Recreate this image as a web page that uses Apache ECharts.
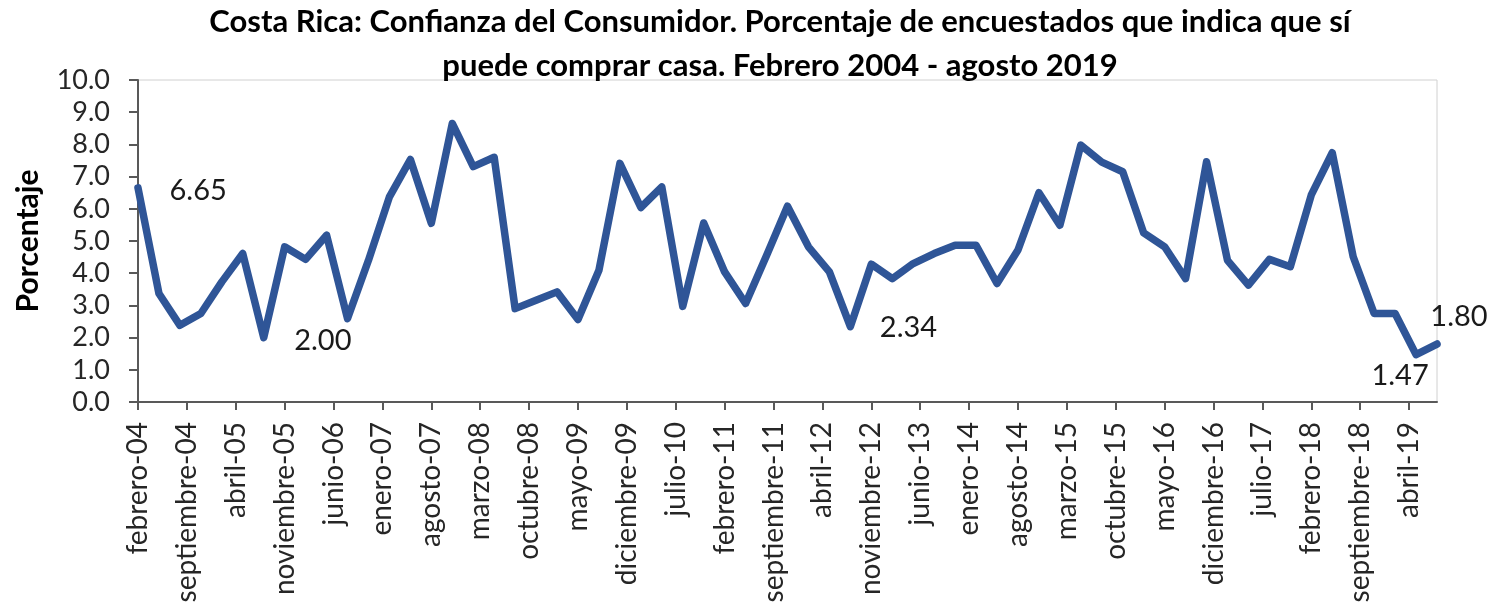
<!DOCTYPE html>
<html>
<head>
<meta charset="utf-8">
<script src="https://cdn.jsdelivr.net/npm/echarts@6/dist/echarts.min.js"></script>
<style>
html,body{margin:0;padding:0;background:#fff;}
#c{width:1493px;height:613px;}
</style>
</head>
<body>
<div id="c"></div>
<script>
// Survey dates (months since febrero 2004) and values
const surveyMonths = [
  0,3,6,9, 12,15,18,21, 24,27,30,33, 36,39,42,45, 48,51,54,57, 60,63,66,69,
  72,75,78,81, 84,87,90,93, 96,99,102,105, 108,111,114,117, 120,123,126,129,
  132,135,138,141, 144,147,150,153, 156,159,162,165, 168,171,174,177, 180,183,186
];
const values = [
  6.65,3.37,2.38,2.75, 3.73,4.61,2.00,4.82, 4.43,5.18,2.59,4.40, 6.37,7.53,5.55,8.65,
  7.31,7.60,2.90,3.16, 3.42,2.56,4.09,7.41, 6.04,6.68,2.97,5.56, 4.04,3.06,4.55,6.08,
  4.82,4.04,2.34,4.28, 3.83,4.30,4.61,4.87, 4.87,3.68,4.72,6.50, 5.49,7.98,7.45,7.15,
  5.25,4.82,3.83,7.46, 4.40,3.63,4.43,4.20, 6.43,7.74,4.51,2.75, 2.75,1.47,1.80
];
const tickLabels = [
  'febrero-04','septiembre-04','abril-05','noviembre-05','junio-06','enero-07','agosto-07',
  'marzo-08','octubre-08','mayo-09','diciembre-09','julio-10','febrero-11','septiembre-11',
  'abril-12','noviembre-12','junio-13','enero-14','agosto-14','marzo-15','octubre-15',
  'mayo-16','diciembre-16','julio-17','febrero-18','septiembre-18','abril-19'
];
const tickStep = 7;
const lastMonth = 186;
const labeledPoints = [0, 6, 34, 61, 62];

const labelStyles = {
  0:  {position: 'right', distance: 31, offset: [0, 3]},
  6:  {position: 'right', distance: 30, offset: [0, 3]},
  34: {position: 'right', distance: 29, offset: [0, 1]},
  61: {position: 'bottom', distance: 6, offset: [-16, 0]},
  62: {position: 'top', distance: 12, offset: [22, 0]}
};

const tickValues = tickLabels.map((_, i) => i * tickStep);

const seriesData = surveyMonths.map((m, i) => {
  const item = {value: [m, values[i]]};
  if (labeledPoints.indexOf(i) >= 0) {
    item.label = Object.assign({show: true}, labelStyles[i]);
  }
  return item;
});

const chart = echarts.init(document.getElementById('c'), null, {renderer: 'canvas'});
const axisColor = '#595959';
const font = 'Lato, "Open Sans", sans-serif';
chart.setOption({
  animation: false,
  backgroundColor: '#fff',
  title: {
    text: 'Costa Rica: Confianza del Consumidor. Porcentaje de encuestados que indica que sí\npuede comprar casa. Febrero 2004 - agosto 2019',
    left: 780,
    top: 0,
    padding: 0,
    textAlign: 'center',
    textStyle: {fontFamily: font, fontWeight: 'bold', fontSize: 31, lineHeight: 44, color: '#000'}
  },
  grid: {
    left: 138, right: 56, top: 80, bottom: 211,
    show: true, borderColor: '#d0d0d0', borderWidth: 1, backgroundColor: 'transparent'
  },
  xAxis: {
    type: 'value',
    min: 0, max: lastMonth,
    interval: tickStep,
    splitLine: {show: false},
    axisLine: {show: true, onZero: false, lineStyle: {color: axisColor, width: 2}},
    axisTick: {show: true, length: 8, customValues: tickValues, lineStyle: {color: axisColor, width: 2}},
    axisLabel: {
      customValues: tickValues,
      rotate: 90,
      margin: 20,
      fontFamily: font,
      fontSize: 28,
      color: '#262626',
      formatter: v => tickLabels[Math.round(v / tickStep)] || ''
    }
  },
  yAxis: {
    type: 'value',
    min: 0, max: 10, interval: 1,
    name: 'Porcentaje',
    nameLocation: 'middle',
    nameGap: 95,
    nameTextStyle: {fontFamily: font, fontWeight: 'bold', fontSize: 30, color: '#000'},
    splitLine: {show: false},
    axisLine: {show: true, lineStyle: {color: axisColor, width: 2}},
    axisTick: {show: true, length: 9, lineStyle: {color: axisColor, width: 2}},
    axisLabel: {
      margin: 28,
      fontFamily: font,
      fontSize: 27,
      color: '#262626',
      formatter: v => v.toFixed(1)
    }
  },
  series: [{
    type: 'line',
    data: seriesData,
    showSymbol: true,
    symbol: 'circle',
    symbolSize: 1,
    itemStyle: {color: 'rgba(0,0,0,0)'},
    lineStyle: {color: '#2f5597', width: 7.5, join: 'round', cap: 'round'},
    label: {
      show: false,
      fontFamily: font,
      fontSize: 29,
      color: '#1a1a1a',
      formatter: p => p.value[1].toFixed(2)
    },
    emphasis: {disabled: true},
    clip: false
  }]
});
</script>
</body>
</html>
